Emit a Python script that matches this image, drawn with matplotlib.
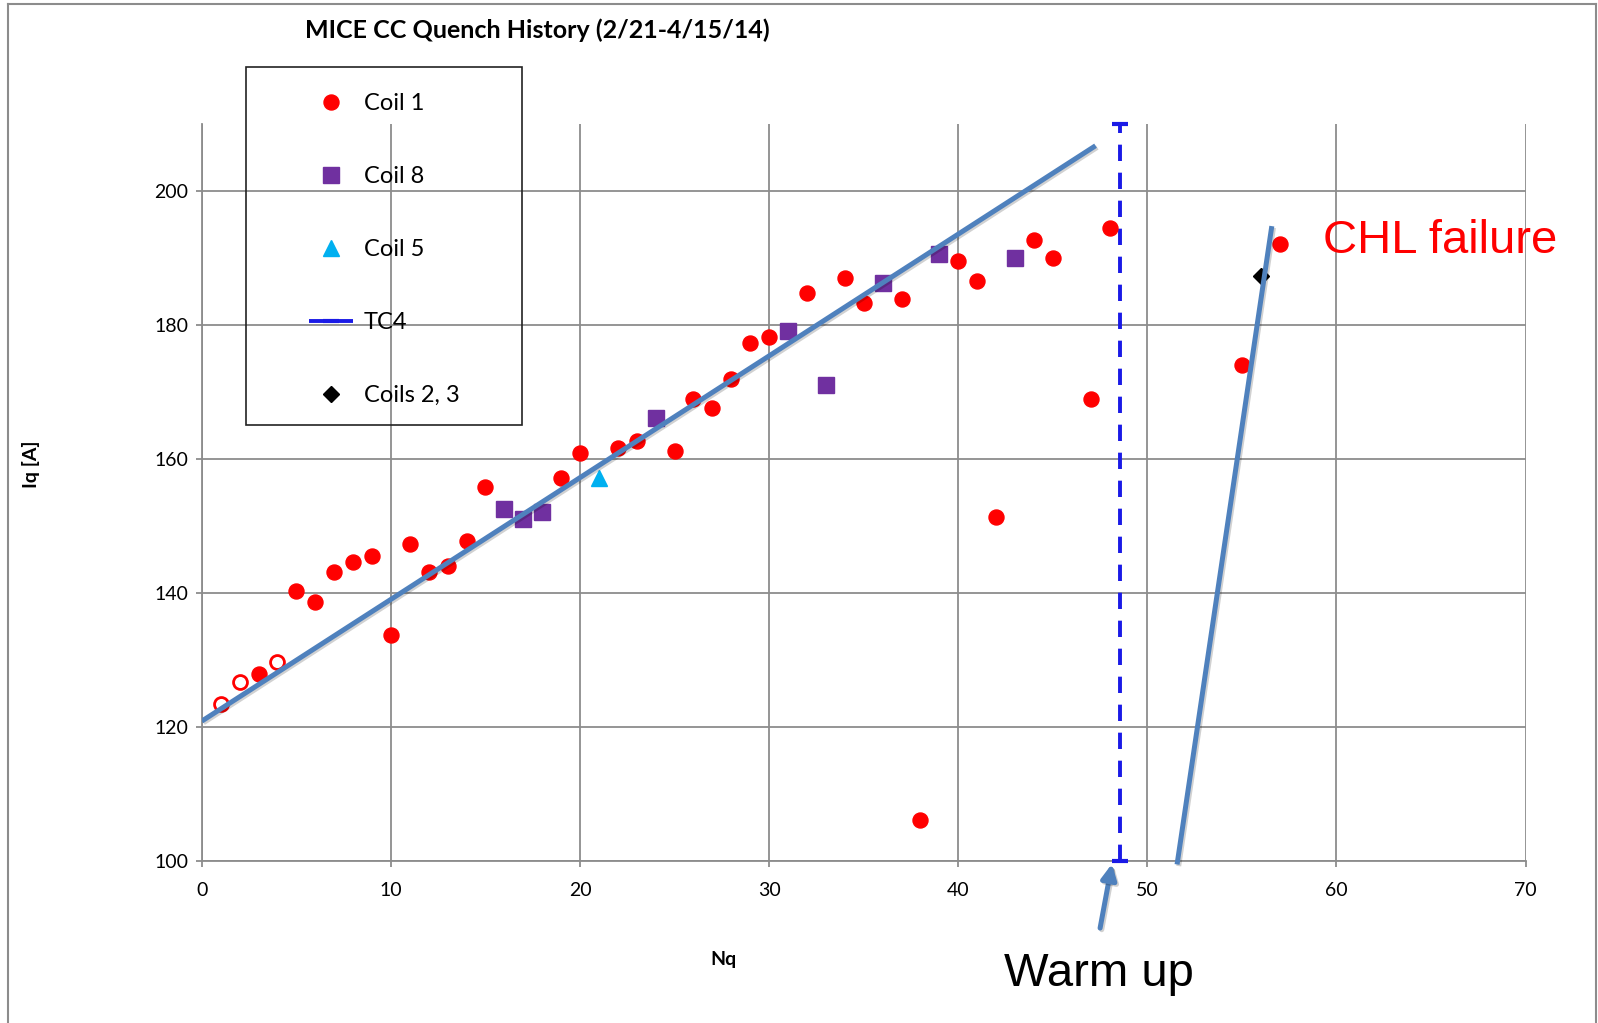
import matplotlib
matplotlib.use("Agg")
import matplotlib.pyplot as plt
import matplotlib.patheffects as pe
from matplotlib.lines import Line2D
from matplotlib.patches import Rectangle

# ---------------- data ----------------
coil1_x = [3, 5, 6, 7, 8, 9, 10, 11, 12, 13, 14, 15, 19, 20, 22, 23, 25, 26, 27, 28,
           29, 30, 32, 34, 35, 37, 38, 40, 41, 42, 44, 45, 47, 48, 55, 57]
coil1_y = [127.9, 140.3, 138.7, 143.2, 144.7, 145.5, 133.8, 147.3, 143.1, 144.1, 147.8,
           155.9, 157.2, 160.9, 161.6, 162.7, 161.3, 169.0, 167.6, 172.0, 177.3, 178.2,
           184.8, 187.1, 183.3, 183.9, 106.1, 189.6, 186.6, 151.4, 192.7, 190.1, 169.0,
           194.5, 174.1, 192.1]
coil1_open_x = [1, 2, 4]
coil1_open_y = [123.4, 126.8, 129.7]
coil8_x = [16, 17, 18, 24, 31, 33, 36, 39, 43]
coil8_y = [152.5, 151.0, 152.1, 166.2, 179.1, 171.1, 186.3, 190.6, 190.1]
coil5_x = [21]
coil5_y = [157.2]
coils23_x = [56]
coils23_y = [187.4]
tc4_x = [48.57, 48.57]
tc4_y = [100, 210]
trend_x = [0, 47.26]
trend_y = [120.9, 206.8]
chl_x = [51.57, 56.58]
chl_y = [99.5, 194.8]

x_ticks = [0, 10, 20, 30, 40, 50, 60, 70]
y_ticks = [100, 120, 140, 160, 180, 200]
legend_labels = ["Coil 1", "Coil 8", "Coil 5", "TC4", "Coils 2, 3"]
title_text = "MICE CC Quench History (2/21-4/15/14)"

# ---------------- figure ----------------
W, H = 1598, 1023
fig = plt.figure(figsize=(W / 100, H / 100), dpi=100)
fig.patch.set_facecolor("white")
plt.rcParams['font.family'] = ['Lato', 'DejaVu Sans']

ax = fig.add_axes([201.8 / W, 1 - 861.1 / H, (1525.6 - 201.8) / W, (861.1 - 124.3) / H])
ax.set_xlim(0, 70)
ax.set_ylim(100, 210)
ax.set_xticks(x_ticks)
ax.set_yticks(y_ticks)
ax.set_xticklabels([str(v) for v in x_ticks])
ax.set_yticklabels([str(v) for v in y_ticks])
grid_c = "#8c8c8c"
ax.grid(True, color=grid_c, linewidth=1.3)
ax.set_axisbelow(True)
for s in ["top", "right"]:
    ax.spines[s].set_visible(False)
for s in ["left", "bottom"]:
    ax.spines[s].set_color(grid_c)
    ax.spines[s].set_linewidth(1.3)
ax.tick_params(axis="both", direction="out", length=4.5, width=1.3, color=grid_c,
               labelsize=14, labelcolor="black")
ax.tick_params(axis="x", pad=10.5)
ax.tick_params(axis="y", pad=5)

red = "#ff0000"
purple = "#7030a0"
cyan = "#00b0f0"
blue_tc = "#1a1ae6"
steel = "#4f81bd"

ms = 10.8
h1, = ax.plot(coil1_x, coil1_y, "o", color=red, ms=ms, mec=red, zorder=5)
ax.plot(coil1_open_x, coil1_open_y, "o", mfc="white", mec=red, ms=10, mew=2.0, zorder=5)
h8, = ax.plot(coil8_x, coil8_y, "s", color=purple, ms=11, mec=purple, zorder=5)
h5, = ax.plot(coil5_x, coil5_y, "^", color=cyan, ms=11, mec=cyan, zorder=5)
hb, = ax.plot(coils23_x, coils23_y, "D", color="black", ms=8, mec="black", zorder=6)
htc, = ax.plot(tc4_x, tc4_y, color=blue_tc, lw=2.8, ls=(0, (4.2, 3.0)), marker="_",
               ms=11, mew=3, clip_on=False, zorder=4)

shadow = [pe.SimpleLineShadow(offset=(1.2, -1.2), alpha=0.18), pe.Normal()]
ax.plot(trend_x, trend_y, color=steel, lw=3.6, solid_capstyle="butt",
        path_effects=shadow, zorder=6)
ax.plot(chl_x, chl_y, color=steel, lw=3.6, solid_capstyle="butt",
        path_effects=shadow, clip_on=False, zorder=6)

ax.annotate("", xy=(48.13, 99.6), xytext=(47.5, 90.0), xycoords="data",
            annotation_clip=False,
            arrowprops=dict(arrowstyle="-|>,head_length=0.9,head_width=0.45",
                            color=steel, lw=3.6, shrinkA=0, shrinkB=0,
                            path_effects=shadow))

# legend
leg = fig.legend([h1, h8, h5, htc, hb], legend_labels, loc="upper left",
                 bbox_to_anchor=(300 / W, 1 - 84 / H), frameon=False, fontsize=17,
                 handlelength=1.85, handletextpad=0.45, labelspacing=2.2,
                 borderpad=0.4, borderaxespad=0, numpoints=1)
fig.patches.append(Rectangle((245.6 / W, 1 - 425 / H), (521.8 - 245.6) / W,
                             (425 - 67.3) / H, transform=fig.transFigure,
                             fill=False, edgecolor="#222222", lw=1.2, zorder=10))

# texts
fig.text(537 / W, 1 - 30 / H, title_text, ha="center", va="center",
         fontsize=18, fontweight="bold")
fig.text(31 / W, 1 - 464 / H, "Iq [A]", rotation=90, ha="center", va="center",
         fontsize=14, fontweight="bold")
fig.text(723 / W, 1 - 960 / H, "Nq", ha="center", va="center",
         fontsize=14, fontweight="bold")
fig.text(1323 / W, 1 - 252.7 / H, "CHL failure", ha="left", va="baseline",
         fontsize=34, color=red, family=["Liberation Sans", "DejaVu Sans"])
fig.text(1004 / W, 1 - 986 / H, "Warm up", ha="left", va="baseline",
         fontsize=34, color="black", family=["Liberation Sans", "DejaVu Sans"])

# outer frame
bc = "#8c8c8c"
fig.lines.append(Line2D([8 / W, 8 / W], [0, 1 - 4 / H], transform=fig.transFigure,
                        color=bc, lw=1.5))
fig.lines.append(Line2D([8 / W, 1596 / W], [1 - 4 / H, 1 - 4 / H],
                        transform=fig.transFigure, color=bc, lw=1.5))
fig.lines.append(Line2D([1596 / W, 1596 / W], [0, 1 - 4 / H], transform=fig.transFigure,
                        color=bc, lw=1.5))

fig.savefig("out.png", dpi=100, facecolor="white")
